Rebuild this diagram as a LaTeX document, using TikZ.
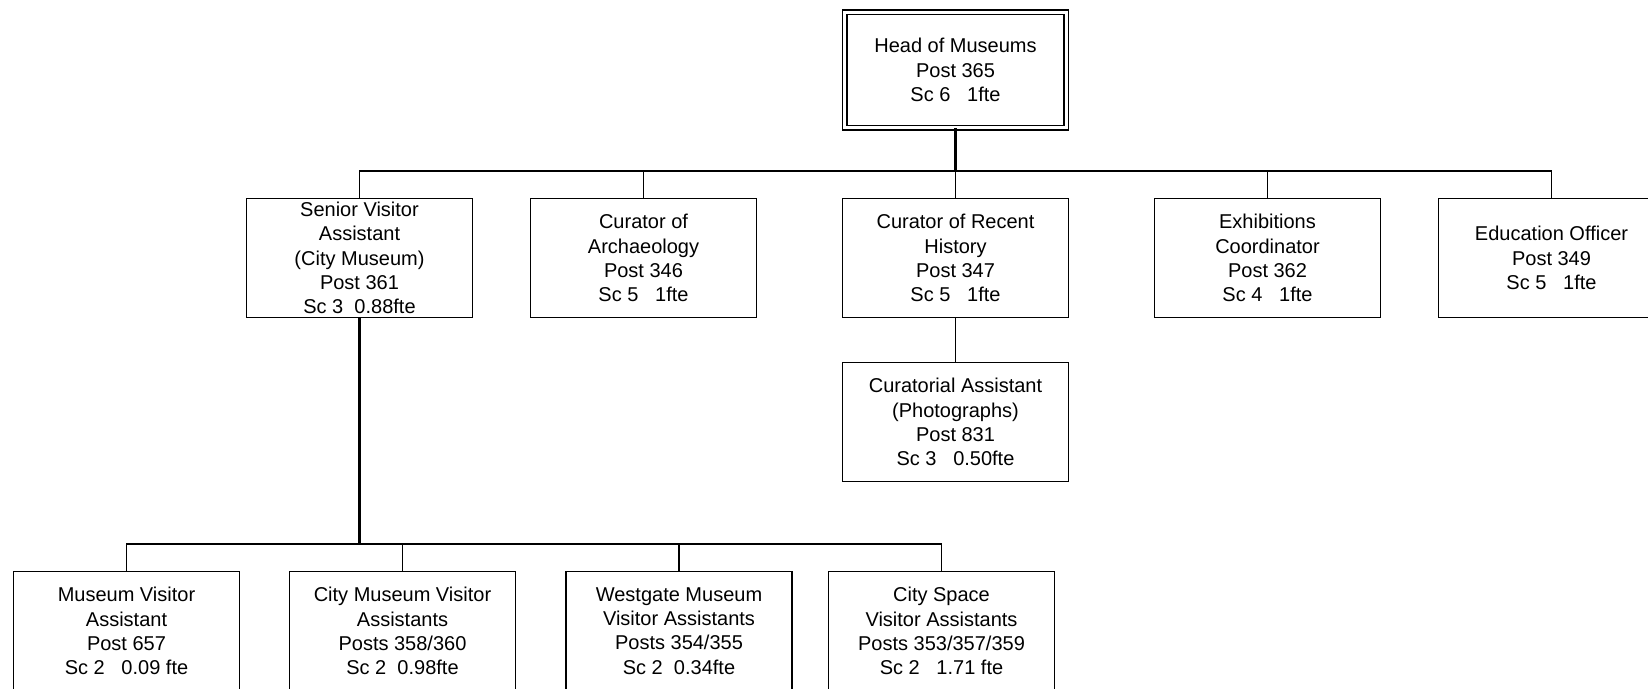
\documentclass[tikz,border=0pt]{standalone}
\usepackage{fontspec}
\setmainfont{Liberation Sans}
\begin{document}
\begin{tikzpicture}[x=1pt,y=-1pt,
  every node/.style={font=\fontsize{20}{24.2}\selectfont, align=center, inner sep=0pt},
  post/.style={draw, line width=1.3pt, minimum width=226pt, minimum height=119pt},
  headpost/.style={draw, line width=1.3pt, double, double distance=3pt,
                   minimum width=221.5pt, minimum height=115.5pt},
  link/.style={line width=1.3pt},
  mainlink/.style={line width=2.1pt}]
\useasboundingbox (0,0) rectangle (1648,688);
\clip (0,0) rectangle (1648,688);

% top post
\node[headpost] (head) at (955.5,70) {Head of Museums\\Post 365\\Sc 6\ \ \ 1fte};

% second tier
\node[post] (sva)    at (359.5,258) {Senior Visitor\\Assistant\\(City Museum)\\Post 361\\Sc 3\ \ 0.88fte};
\node[post] (arch)   at (643.5,258) {Curator of\\Archaeology\\Post 346\\Sc 5\ \ \ 1fte};
\node[post] (recent) at (955.5,258) {Curator of Recent\\History\\Post 347\\Sc 5\ \ \ 1fte};
\node[post] (exhib)  at (1267.5,258) {Exhibitions\\Coordinator\\Post 362\\Sc 4\ \ \ 1fte};
\node[post] (edu)    at (1551.5,258) {Education Officer\\Post 349\\Sc 5\ \ \ 1fte};

% under recent history
\node[post] (photo)  at (955.5,422) {Curatorial Assistant\\(Photographs)\\Post 831\\Sc 3\ \ \ 0.50fte};

% visitor assistants
\node[post] (mva)  at (126.5,631) {Museum Visitor\\Assistant\\Post 657\\Sc 2\ \ \ 0.09 fte};
\node[post] (cmva) at (402.5,631) {City Museum Visitor\\Assistants\\Posts 358/360\\Sc 2\ \ 0.98fte};
\node[post] (wmva) at (679,631) {Westgate Museum\\Visitor Assistants\\Posts 354/355\\Sc 2\ \ 0.34fte};
\node[post] (csva) at (941.5,631) {City Space\\Visitor Assistants\\Posts 353/357/359\\Sc 2\ \ \ 1.71 fte};

% bus lines
\coordinate (bus)  at (0,171);
\coordinate (bus2) at (0,544);

% head to second tier
\draw[mainlink] (head.south) -- (head.south |- bus);
\draw[link] (sva.north) -- (sva.north |- bus) -- (edu.north |- bus) -- (edu.north);
\draw[link] (arch.north) -- (arch.north |- bus);
\draw[link] (recent.north) -- (recent.north |- bus);
\draw[link] (exhib.north) -- (exhib.north |- bus);

% recent history to curatorial assistant
\draw[link] (recent.south) -- (photo.north);

% senior visitor assistant to visitor assistants
\draw[mainlink] (sva.south) -- (sva.south |- bus2);
\draw[link] (mva.north) -- (mva.north |- bus2) -- (csva.north |- bus2) -- (csva.north);
\draw[link] (cmva.north) -- (cmva.north |- bus2);
\draw[link] (wmva.north) -- (wmva.north |- bus2);
\end{tikzpicture}
\end{document}
